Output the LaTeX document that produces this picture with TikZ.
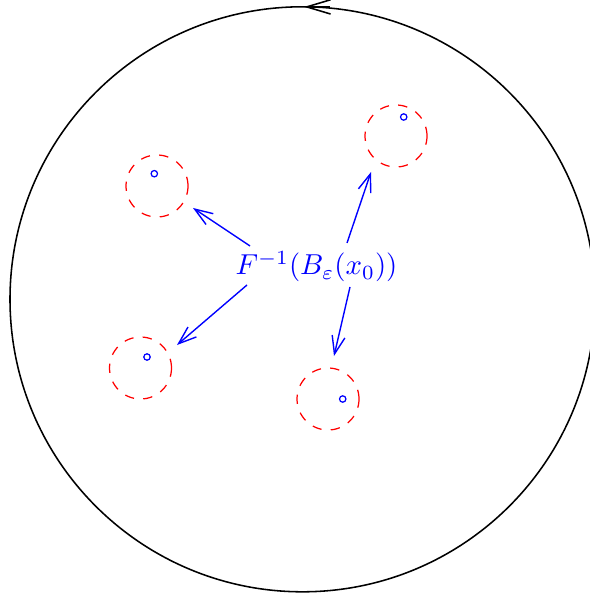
\documentclass[tikz,border=0pt]{standalone}
\usetikzlibrary{arrows.meta}
\newdimen\pxu \pxu=0.3226pt
\tikzset{
  bound/.style={line width=0.5pt, black},
  nbhd/.style={draw=red, dashed, circle, minimum size=62\pxu, inner sep=0pt, line width=0.4pt},
  pt/.style={draw=blue, circle, minimum size=6.4\pxu, inner sep=0pt, line width=0.4pt},
  preim/.style={blue, line width=0.45pt, -{Straight Barb[length=5.8pt,width=4.2pt]}},
  lbl/.style={blue, inner sep=0pt, scale=0.93, transform shape},
}

\begin{document}
\begin{tikzpicture}[x=0.3226pt, y=-0.3226pt]
\useasboundingbox (0,0) rectangle (589,597);
% outer boundary
\draw[bound] (302.5,299.3) circle (292.5);
\draw[bound, -{Straight Barb[length=7.7pt,width=4.6pt]}] (330,6.9) -- (304,6.9);
% neighbourhoods
\node[nbhd] (ul) at (157,186) {};
\node[nbhd] (ll) at (140.5,368) {};
\node[nbhd] (lr) at (328,399) {};
\node[nbhd] (ur) at (396,136) {};
\node[pt] (pul) at (154.3,173.7) {};
\node[pt] (pll) at (147,357) {};
\node[pt] (plr) at (342.7,399) {};
\node[pt] (pur) at (403.7,117) {};
% label and arrows
\node[lbl, anchor=base] (F) at (316.5,275) {$F^{-1}(B_\varepsilon(x_0))$};
\coordinate (t1) at (250,246); \coordinate (h1) at (193,208);
\coordinate (t2) at (247,285); \coordinate (h2) at (177,345);
\coordinate (t3) at (347,243); \coordinate (h3) at (371,172);
\coordinate (t4) at (350,287); \coordinate (h4) at (334,356);
\draw[preim] (t1) -- (h1);
\draw[preim] (t2) -- (h2);
\draw[preim] (t3) -- (h3);
\draw[preim] (t4) -- (h4);
\end{tikzpicture}
\end{document}
